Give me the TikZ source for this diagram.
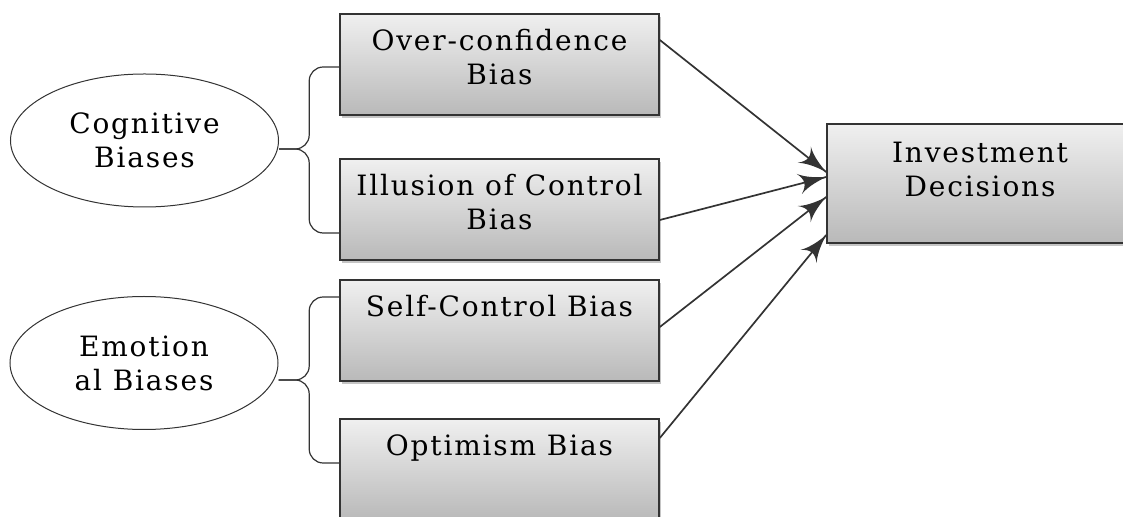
\documentclass[tikz,border=0pt]{standalone}
\usepackage{fontspec}
\setmainfont{DejaVu Serif}[LetterSpace=6.5]
\usepackage{tikz}
\usetikzlibrary{arrows}
\usetikzlibrary{decorations.markings}
\usetikzlibrary{shapes.geometric}
\usetikzlibrary{shadows}
\definecolor{mgray}{rgb}{0.2, 0.2, 0.2}
\tikzset{feed/.style = {decoration={markings,
                                    mark=at position 1 with {\arrow[scale=2.6]{latex'}}},
                        postaction={decorate}}}
\tikzset{bias/.style = {ellipse, draw=mgray, line width=0.5pt, fill=white,
                        minimum width=134pt, minimum height=66.5pt, inner sep=0pt, align=center}}
\tikzset{factor/.style = {rectangle, draw=mgray, line width=0.8pt, top color=gray!12, bottom color=gray!55,
                          drop shadow={shadow xshift=1.2pt, shadow yshift=-1.5pt, fill=black!45},
                          minimum width=159.5pt, inner sep=0pt, text height=18.5pt, text depth=32pt, align=center}}
\tikzset{factor2/.style = {factor, text height=35.5pt, text depth=15pt}}
\tikzset{brace/.style = {draw=mgray, line width=0.6pt, rounded corners=7pt}}

\begin{document}
\begin{tikzpicture}[x=0.5pt, y=-0.5pt, font=\fontsize{14}{17}\selectfont]
    \useasboundingbox (0, 0) rectangle (1123, 517);

    \node [bias] (cg) at (144.5, 140.5) {Cognitive\\Biases};
    \node [bias] (em) at (144, 363) {Emotion\\al Biases};

    \node [factor2] (ob) at (499.5, 64.5) {Over-confidence\\Bias};
    \node [factor2] (il) at (499.5, 209.5) {Illusion of Control\\Bias};
    \node [factor] (sc) at (499.5, 330.5) {Self-Control Bias};
    \node [factor] (op) at (499.5, 469.5) {Optimism Bias};
    \node [factor2, minimum width=153pt, text height=36.5pt, text depth=23pt] (inv) at (980, 183.5) {Investment\\Decisions};

    % braces
    \coordinate (cg-tip) at ([yshift=-4.25pt]cg.east);
    \coordinate (em-tip) at ([yshift=-8.5pt]em.east);
    \coordinate (ob-in) at ([yshift=-1.25pt]ob.west);
    \coordinate (il-in) at ([yshift=-11.75pt]il.west);
    \coordinate (sc-in) at ([yshift=16.75pt]sc.west);
    \coordinate (op-in) at ([yshift=3.25pt]op.west);
    \draw [brace] (cg-tip) -| ([xshift=-15pt]ob-in) -- (ob-in);
    \draw [brace] (cg-tip) -| ([xshift=-15pt]il-in) -- (il-in);
    \draw [brace] (em-tip) -| ([xshift=-15pt]sc-in) -- (sc-in);
    \draw [brace] (em-tip) -| ([xshift=-15pt]op-in) -- (op-in);

    % arrows
    \draw [feed, mgray, line width=0.85pt] ([yshift=12.25pt]ob.east) -- ([yshift=5.75pt]inv.west);
    \draw [feed, mgray, line width=0.85pt] ([yshift=-5.25pt]il.east) -- ([yshift=3.25pt]inv.west);
    \draw [feed, mgray, line width=0.85pt] ([yshift=1.75pt]sc.east) -- ([yshift=-6.75pt]inv.west);
    \draw [feed, mgray, line width=0.85pt] ([yshift=15.75pt]op.east) -- ([yshift=-25.75pt]inv.west);
  \end{tikzpicture}
\end{document}
